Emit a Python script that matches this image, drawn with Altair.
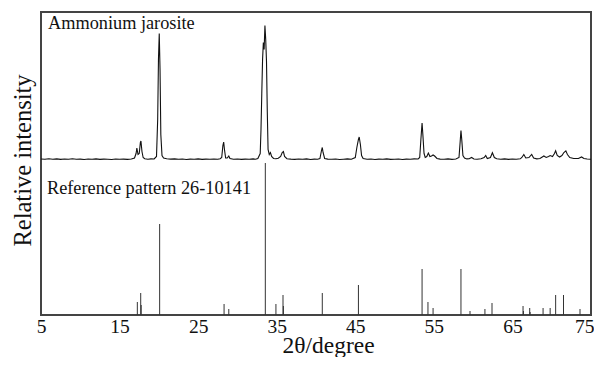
import altair as alt
import pandas as pd

# Measured pattern: 2theta (deg) and height above its own baseline
meas_x = [5.0, 5.5, 6.0, 6.5, 7.0, 7.5, 8.0, 8.5, 9.0, 9.5, 10.0, 10.5, 11.0, 11.5, 12.0, 12.5,
          13.0, 13.5, 14.0, 14.5, 15.0, 15.5, 16.0, 16.5, 16.9, 17.1, 17.2, 17.35, 17.5, 17.65,
          17.72, 17.85, 18.0, 18.2, 18.6, 19.0, 19.4, 19.7, 19.85, 19.95, 20.05, 20.15, 20.25,
          20.4, 20.6, 21.0, 21.5, 22.0, 22.5, 23.0, 23.5, 24.0, 24.5, 25.0, 25.5, 26.0, 26.5,
          27.0, 27.5, 27.8, 28.0, 28.15, 28.25, 28.35, 28.5, 28.7, 28.9, 29.05, 29.5, 30.0,
          30.5, 31.0, 31.5, 32.0, 32.3, 32.6, 32.9, 33.0, 33.1, 33.2, 33.3, 33.4, 33.5, 33.6,
          33.7, 33.8, 33.9, 34.05, 34.2, 34.35, 34.6, 34.9, 35.2, 35.5, 35.7, 35.85, 36.0,
          36.3, 36.8, 37.3, 37.8, 38.3, 38.8, 39.3, 39.8, 40.2, 40.5, 40.7, 40.8, 40.9, 41.1,
          41.5, 42.0, 42.5, 43.0, 43.5, 44.0, 44.5, 45.0, 45.2, 45.4, 45.5, 45.65, 45.8, 46.0,
          46.5, 47.0, 47.5, 48.0, 48.5, 49.0, 49.5, 50.0, 50.5, 51.0, 51.5, 52.0, 52.5, 53.0,
          53.2, 53.35, 53.5, 53.6, 53.75, 53.9, 54.1, 54.3, 54.5, 54.7, 54.9, 55.1, 55.4, 55.8,
          56.3, 56.8, 57.3, 57.8, 58.2, 58.35, 58.45, 58.55, 58.7, 58.9, 59.2, 59.5, 59.8,
          60.1, 60.5, 61.0, 61.4, 61.6, 61.8, 62.2, 62.45, 62.7, 63.0, 63.5, 64.0, 64.5, 65.0,
          65.5, 66.0, 66.2, 66.45, 66.7, 67.1, 67.45, 67.7, 68.1, 68.5, 68.8, 69.0, 69.3, 69.6,
          69.8, 70.1, 70.35, 70.5, 70.7, 71.0, 71.3, 71.55, 71.8, 72.0, 72.3, 72.8, 73.4, 73.8,
          74.1, 74.5, 75.0]
meas_h = [0.5, 0.2, 0.8, 0.3, 0.6, 0.1, 0.5, 0.2, 0.7, 0.3, 0.4, 0.0, 0.5, 0.2, 0.6, 0.1,
          0.4, 0.3, 0.0, 0.5, 0.2, 0.4, 0.1, 0.5, 1.5, 6.0, 11.5, 5.0, 6.0, 17.0,
          18.5, 8.0, 2.0, 0.8, 0.3, 0.6, 0.5, 3.0, 40.0, 100.0, 126.0, 90.0, 25.0,
          4.0, 1.5, 0.8, 0.4, 0.6, 0.2, 0.5, 0.0, 0.4, 0.3, 0.6, 0.1, 0.4, 0.2,
          0.5, 0.3, 0.8, 2.0, 14.0, 17.5, 10.0, 1.5, 1.5, 3.5, 1.0, 0.2, 0.5,
          0.1, 0.4, 0.2, 0.6, 0.3, 1.0, 6.0, 30.0, 66.0, 100.0, 117.0, 110.0, 134.0, 120.0,
          98.0, 48.0, 10.0, 5.0, 7.0, 3.0, 1.0, 0.8, 1.2, 3.0, 7.0, 8.0, 3.0,
          0.8, 0.4, 0.1, 0.5, 0.2, 0.6, 0.0, 0.4, 0.3, 1.0, 9.0, 12.0, 7.0, 1.0,
          0.4, 0.2, 0.5, 0.0, 0.3, 0.6, 0.2, 2.0, 12.0, 20.0, 22.5, 15.0, 4.0, 1.0,
          0.3, 0.5, 0.0, 0.4, 0.2, 0.6, 0.1, 0.3, 0.5, 0.0, 0.4, 0.2, 0.6, 0.5,
          2.0, 20.0, 36.5, 25.0, 6.0, 2.0, 3.0, 6.5, 3.0, 3.5, 4.5, 3.5, 1.0, 0.4,
          0.2, 0.6, 0.1, 0.5, 2.0, 18.0, 29.0, 20.0, 4.0, 1.5, 0.6, 0.8, 2.0,
          0.5, 0.3, 0.8, 2.0, 4.0, 1.0, 2.0, 6.7, 2.0, 0.8, 0.3, 0.6, 0.1, 0.5,
          0.2, 0.7, 2.0, 5.0, 1.5, 2.0, 5.0, 1.5, 0.6, 1.0, 2.5, 3.5, 2.0, 3.0,
          4.0, 3.0, 6.0, 8.7, 4.0, 2.5, 4.0, 7.0, 8.7, 5.0, 2.0, 1.0, 1.0, 2.5,
          1.0, 0.5, 0.3]
meas_offset = 155.5

# Reference pattern 26-10141 sticks
ref_x = [17.26, 17.69, 17.75, 20.1, 28.3, 28.9, 33.55, 34.9, 35.8, 35.85, 40.8, 45.4, 53.5,
         54.25, 54.9, 58.45, 59.6, 61.5, 62.4, 66.35, 66.4, 67.2, 67.25, 68.9, 69.8, 70.5,
         71.5, 73.6]
ref_h = [13, 22, 10, 91, 11, 6, 152, 11, 20, 9, 22, 30, 46,
         13, 7, 46, 4, 6, 12, 9, 4, 7, 3, 7, 7, 20,
         20, 6]

label_text = ["Ammonium jarosite", "Reference pattern 26-10141"]
label_x = [5.89, 5.76]
label_y = [285.7, 121.0]

x_ticks = [5, 15, 25, 35, 45, 55, 65, 75]

meas = pd.DataFrame({"x": meas_x, "y": [h + meas_offset for h in meas_h]})
ref = pd.DataFrame({"x": ref_x, "y0": [0] * len(ref_x), "y": ref_h})
labels = pd.DataFrame({"text": label_text, "x": label_x, "y": label_y})

FONT = "Liberation Serif"
xs = alt.Scale(domain=[5, 75], nice=False, zero=False)
ys = alt.Scale(domain=[0, 303], nice=False, zero=False)

last = "datum.value == 75"
xaxis = alt.Axis(values=x_ticks, title="2θ/degree", domain=False, ticks=False, grid=False,
                 labelFont=FONT, labelFontSize=19.5, labelColor="#111", labelPadding=2,
                 labelFlush=False, labelOverlap=False,
                 labelAlign={"condition": {"test": last, "value": "right"}, "value": "center"},
                 labelOffset={"condition": {"test": last, "value": 3}, "value": 0},
                 titleFont=FONT, titleFontSize=23.5, titleFontWeight="normal", titleColor="#111",
                 titleBaseline="alphabetic", titleX=287, titleY=37)
yaxis = alt.Axis(title="Relative intensity", labels=False, ticks=False, domain=False, grid=False,
                 titleFont=FONT, titleFontSize=24.5, titleFontWeight="normal", titleColor="#111",
                 titleX=-18, titleY=148, titleBaseline="middle", titleAngle=270)

line = alt.Chart(meas).mark_line(color="#111", strokeWidth=1.1).encode(
    x=alt.X("x:Q", scale=xs, axis=xaxis),
    y=alt.Y("y:Q", scale=ys, axis=yaxis),
)
sticks = alt.Chart(ref).mark_rule(color="#333", strokeWidth=1).encode(
    x=alt.X("x:Q", scale=xs),
    y=alt.Y("y0:Q", scale=ys),
    y2="y:Q",
)
texts = alt.Chart(labels).mark_text(font=FONT, fontSize=18.3, align="left",
                                    baseline="alphabetic", color="#111").encode(
    x=alt.X("x:Q", scale=xs),
    y=alt.Y("y:Q", scale=ys),
    text="text:N",
)

chart = alt.layer(sticks, line, texts).properties(
    width=550, height=303,
    autosize=alt.AutoSizeParams(type="none"),
    padding={"left": 33, "top": 4, "right": 3, "bottom": 42},
).configure_view(stroke="#444", strokeWidth=2)

chart.save("out.html", embed_options={"renderer": "svg", "actions": False})
